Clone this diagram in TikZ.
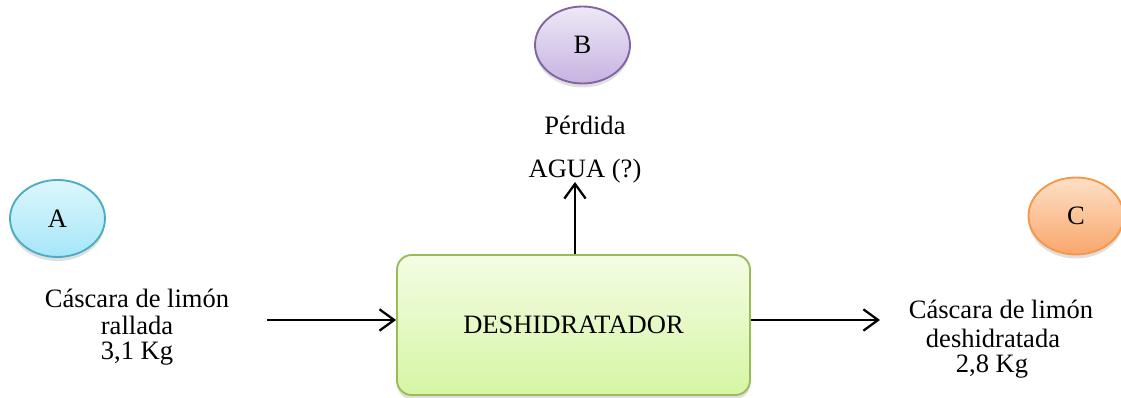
\documentclass[tikz,border=0pt]{standalone}
\usepackage{fontspec}
\setmainfont{Liberation Serif}
\usetikzlibrary{arrows.meta,shadows,shapes.geometric}
\definecolor{aEdge}{HTML}{4BACC6}
\definecolor{aTop}{HTML}{DDF7FD}
\definecolor{aBot}{HTML}{A6E6F8}
\definecolor{bEdge}{HTML}{8064A2}
\definecolor{bTop}{HTML}{EEE8F7}
\definecolor{bBot}{HTML}{C6B3E0}
\definecolor{cEdge}{HTML}{F79646}
\definecolor{cTop}{HTML}{FDE0C6}
\definecolor{cBot}{HTML}{F9A66C}
\definecolor{dEdge}{HTML}{9BBB59}
\definecolor{dTop}{HTML}{F3FDE4}
\definecolor{dBot}{HTML}{D6F5A4}
\tikzset{
  txt/.style={font=\fontsize{19.9}{21}\selectfont, inner sep=0pt},
  bubble/.style={ellipse, minimum width=95*0.75pt, minimum height=77*0.75pt,
    line width=1.4pt, font=\fontsize{19.9}{21}\selectfont,
    drop shadow={shadow xshift=0pt, shadow yshift=-3pt, opacity=0.25}},
  flow/.style={line width=1.7pt, -{Straight Barb[length=11pt,width=16pt,line width=1.7pt]}},
}
\begin{document}
\begin{tikzpicture}[x=0.75pt,y=-0.75pt]
\useasboundingbox (0,0) rectangle (1121,398);

% stage bubbles
\node[bubble, draw=aEdge, top color=aTop, bottom color=aBot] (A) at (57.5,218.5) {A};
\node[bubble, draw=bEdge, top color=bTop, bottom color=bBot] (B) at (582.5,45) {B};
\node[bubble, draw=cEdge, top color=cTop, bottom color=cBot] (C) at (1076,216) {C};

% dryer
\node[draw=dEdge, line width=1.4pt, rounded corners=11pt, top color=dTop, bottom color=dBot,
  minimum width=353*0.75pt, minimum height=140*0.75pt, txt,
  drop shadow={shadow xshift=0pt, shadow yshift=-3pt, opacity=0.25}]
  (D) at (573.5,325) {DESHIDRATADOR};

% input stream
\node[txt] (in1) at (137,298) {Cáscara de limón};
\node[txt] (in2) at (137,325) {rallada};
\node[txt] (in3) at (137,354) {3,1 Kg};

% water loss
\node[txt] (w1) at (585,125) {Pérdida};
\node[txt] (w2) at (585,171) {AGUA (?)};

% output stream
\node[txt] (o1) at (1001,309) {Cáscara de limón};
\node[txt] (o2) at (993,338) {deshidratada};
\node[txt] (o3) at (992,367) {2,8 Kg};

\coordinate (inS) at (267,320);
\coordinate (outE) at (880,320);
\coordinate (upE) at (575,182);

\draw[flow] (inS) -- (D.west |- inS);
\draw[flow] (D.east |- outE) -- (outE);
\draw[flow] (D.north -| upE) -- (upE);
\end{tikzpicture}
\end{document}
